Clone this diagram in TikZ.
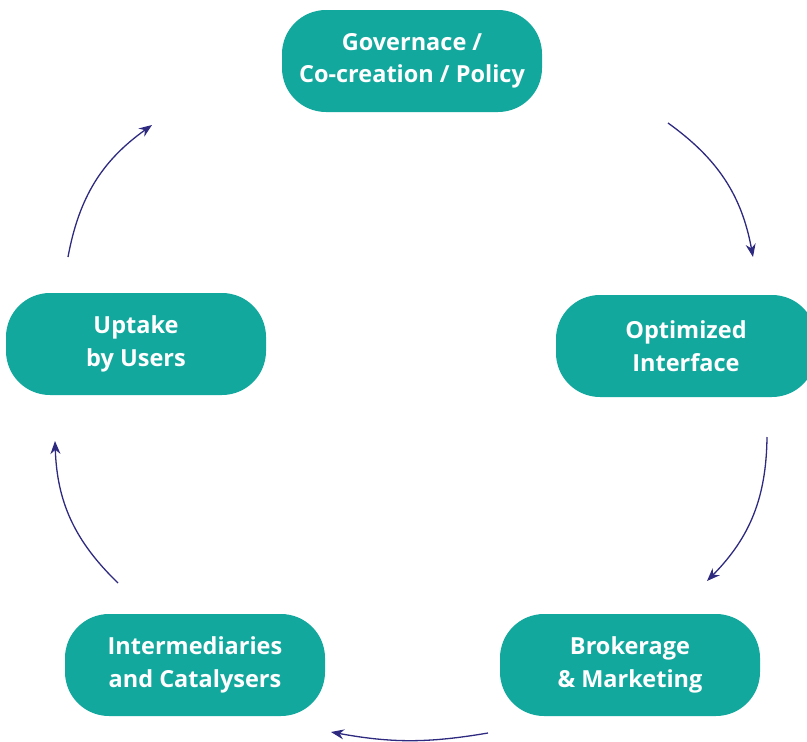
\documentclass[tikz,border=0pt]{standalone}
\usepackage{fontspec}
\setmainfont{Open Sans}
\usetikzlibrary{arrows.meta}
\definecolor{teal1}{HTML}{13A89E}
\definecolor{navy1}{HTML}{2E2A80}
\tikzset{
  stage/.style={fill=teal1, draw=none, rounded corners=44pt, minimum width=260pt, minimum height=102pt,
    text=white, font=\fontsize{23.5}{32.5}\selectfont\bfseries, align=center, inner sep=0pt},
  flow/.style={navy1, line width=1.3pt, -{Stealth[length=13pt,width=10pt]}, bend left=22}
}
\begin{document}
\begin{tikzpicture}[x=1pt,y=-1pt]
\useasboundingbox (0,0) rectangle (807,742);
\node[stage] (gov) at (412,61) {Governace /\\Co-creation / Policy};
\node[stage] (opt) at (686,346) {Optimized\\Interface};
\node[stage] (bro) at (630,665) {Brokerage\\\& Marketing};
\node[stage] (int) at (195,665) {Intermediaries\\and Catalysers};
\node[stage] (upt) at (136,344) {Uptake\\by Users};
\coordinate (a1s) at (668,123); \coordinate (a1e) at (753,257);
\coordinate (a2s) at (767,437); \coordinate (a2e) at (707,581);
\coordinate (a3s) at (488,733); \coordinate (a3e) at (331,732);
\coordinate (a4s) at (118,583); \coordinate (a4e) at (55,441);
\coordinate (a5s) at (68,257);  \coordinate (a5e) at (152,125);
\draw[flow] (a1s) to (a1e);
\draw[flow] (a2s) to (a2e);
\draw[flow, bend left=10] (a3s) to (a3e);
\draw[flow] (a4s) to (a4e);
\draw[flow] (a5s) to (a5e);
\end{tikzpicture}
\end{document}
